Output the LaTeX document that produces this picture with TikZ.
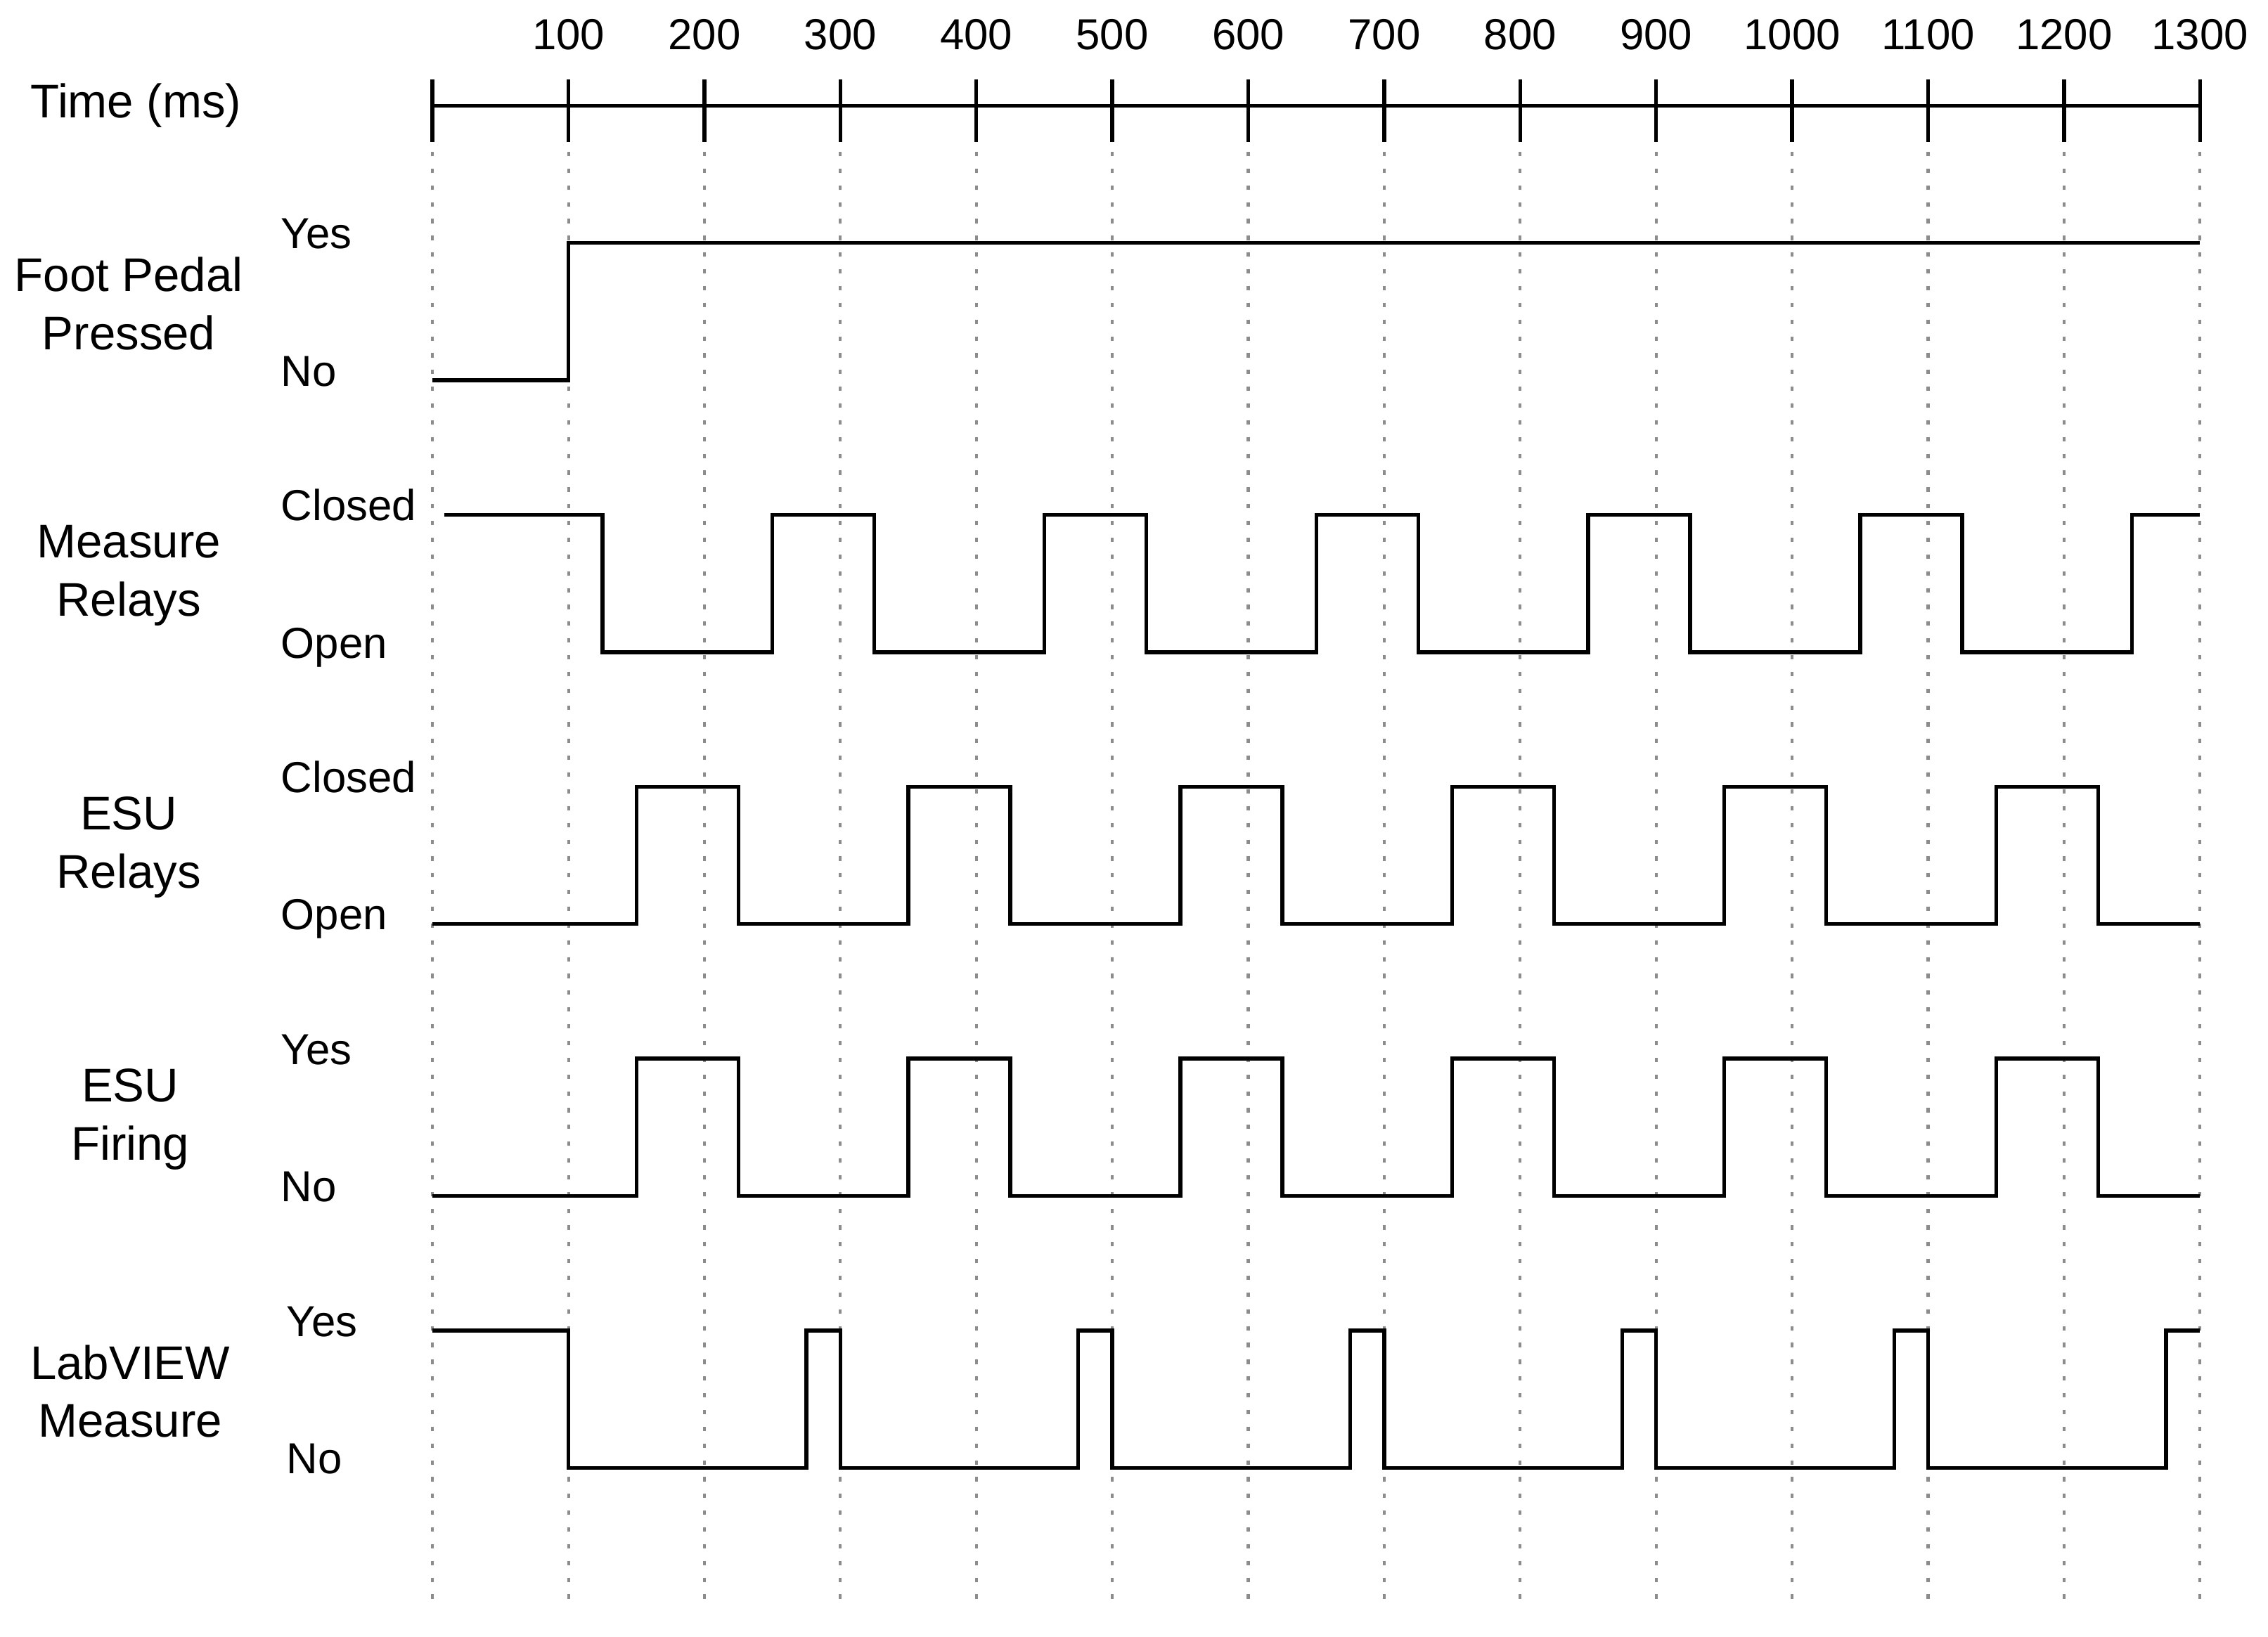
\documentclass[tikz,border=0pt]{standalone}
\usepackage{fontspec}
\setmainfont{Liberation Sans}
\newlength{\du}
\setlength{\du}{15\unitlength}
\definecolor{gridcolor}{rgb}{0.550000, 0.550000, 0.550000}
\tikzset{
  signame/.style={align=center, inner sep=0pt, font=\fontsize{24.5}{30}\selectfont},
  statelabel/.style={anchor=base west, inner sep=0pt, font=\fontsize{22.5}{27}\selectfont},
  ticklabel/.style={inner sep=0pt, font=\fontsize{22.5}{27}\selectfont},
  gridline/.style={draw=gridcolor, line width=0.1\du, dash pattern=on 0.15\du off 0.43\du},
  wave/.style={draw=dialinecolor, line width=0.13\du, line cap=butt, line join=miter},
}

\begin{document}
\begin{tikzpicture}
\pgftransformxscale{1.000000}
\pgftransformyscale{-1.000000}
\definecolor{dialinecolor}{rgb}{0.000000, 0.000000, 0.000000}
\pgfsetstrokecolor{dialinecolor}
\useasboundingbox (0.000000\du,0.000000\du) rectangle (78.400000\du,56.600000\du);
% grid
\draw[gridline] (14.950000\du,5.250000\du)--(14.950000\du,55.500000\du);
\draw[gridline] (19.650000\du,5.250000\du)--(19.650000\du,55.500000\du);
\draw[gridline] (24.350000\du,5.250000\du)--(24.350000\du,55.500000\du);
\draw[gridline] (29.050000\du,5.250000\du)--(29.050000\du,55.500000\du);
\draw[gridline] (33.750000\du,5.250000\du)--(33.750000\du,55.500000\du);
\draw[gridline] (38.450000\du,5.250000\du)--(38.450000\du,55.500000\du);
\draw[gridline] (43.150000\du,5.250000\du)--(43.150000\du,55.500000\du);
\draw[gridline] (47.850000\du,5.250000\du)--(47.850000\du,55.500000\du);
\draw[gridline] (52.550000\du,5.250000\du)--(52.550000\du,55.500000\du);
\draw[gridline] (57.250000\du,5.250000\du)--(57.250000\du,55.500000\du);
\draw[gridline] (61.950000\du,5.250000\du)--(61.950000\du,55.500000\du);
\draw[gridline] (66.650000\du,5.250000\du)--(66.650000\du,55.500000\du);
\draw[gridline] (71.350000\du,5.250000\du)--(71.350000\du,55.500000\du);
\draw[gridline] (76.050000\du,5.250000\du)--(76.050000\du,55.500000\du);
% time axis
\pgfsetlinewidth{0.130000\du}
\pgfsetbuttcap
\pgfsetmiterjoin
\draw[wave] (14.950000\du,3.650000\du)--(76.050000\du,3.650000\du);
\draw[wave] (14.950000\du,2.750000\du)--(14.950000\du,4.900000\du);
\draw[wave] (19.650000\du,2.750000\du)--(19.650000\du,4.900000\du);
\draw[wave] (24.350000\du,2.750000\du)--(24.350000\du,4.900000\du);
\draw[wave] (29.050000\du,2.750000\du)--(29.050000\du,4.900000\du);
\draw[wave] (33.750000\du,2.750000\du)--(33.750000\du,4.900000\du);
\draw[wave] (38.450000\du,2.750000\du)--(38.450000\du,4.900000\du);
\draw[wave] (43.150000\du,2.750000\du)--(43.150000\du,4.900000\du);
\draw[wave] (47.850000\du,2.750000\du)--(47.850000\du,4.900000\du);
\draw[wave] (52.550000\du,2.750000\du)--(52.550000\du,4.900000\du);
\draw[wave] (57.250000\du,2.750000\du)--(57.250000\du,4.900000\du);
\draw[wave] (61.950000\du,2.750000\du)--(61.950000\du,4.900000\du);
\draw[wave] (66.650000\du,2.750000\du)--(66.650000\du,4.900000\du);
\draw[wave] (71.350000\du,2.750000\du)--(71.350000\du,4.900000\du);
\draw[wave] (76.050000\du,2.750000\du)--(76.050000\du,4.900000\du);
\node[ticklabel] (t100) at (19.650000\du,1.200000\du) {100};
\node[ticklabel] (t200) at (24.350000\du,1.200000\du) {200};
\node[ticklabel] (t300) at (29.050000\du,1.200000\du) {300};
\node[ticklabel] (t400) at (33.750000\du,1.200000\du) {400};
\node[ticklabel] (t500) at (38.450000\du,1.200000\du) {500};
\node[ticklabel] (t600) at (43.150000\du,1.200000\du) {600};
\node[ticklabel] (t700) at (47.850000\du,1.200000\du) {700};
\node[ticklabel] (t800) at (52.550000\du,1.200000\du) {800};
\node[ticklabel] (t900) at (57.250000\du,1.200000\du) {900};
\node[ticklabel] (t1000) at (61.950000\du,1.200000\du) {1000};
\node[ticklabel] (t1100) at (66.650000\du,1.200000\du) {1100};
\node[ticklabel] (t1200) at (71.350000\du,1.200000\du) {1200};
\node[ticklabel] (t1300) at (76.050000\du,1.200000\du) {1300};
\node[signame] (time) at (4.700000\du,3.650000\du) {Time (ms)};
% foot pedal
\node[signame] (pedal) at (4.450000\du,10.500000\du) {Foot Pedal\\Pressed};
\node[statelabel] (pedalhi) at (9.650000\du,8.600000\du) {Yes};
\node[statelabel] (pedallo) at (9.650000\du,13.350000\du) {No};
\draw[wave] (14.950000\du,13.150000\du)--(19.650000\du,13.150000\du)--(19.650000\du,8.400000\du)--(76.050000\du,8.400000\du);
% measure relays
\node[signame] (mrelay) at (4.450000\du,19.900000\du) {Measure\\Relays};
\node[statelabel] (mrelayhi) at (9.650000\du,18.000000\du) {Closed};
\node[statelabel] (mrelaylo) at (9.650000\du,22.750000\du) {Open};
\draw[wave] (15.350000\du,17.800000\du)--(20.825000\du,17.800000\du)--(20.825000\du,22.550000\du)--(26.700000\du,22.550000\du)--(26.700000\du,17.800000\du)--(30.225000\du,17.800000\du)--(30.225000\du,22.550000\du)--(36.100000\du,22.550000\du)--(36.100000\du,17.800000\du)--(39.625000\du,17.800000\du)--(39.625000\du,22.550000\du)--(45.500000\du,22.550000\du)--(45.500000\du,17.800000\du)--(49.025000\du,17.800000\du)--(49.025000\du,22.550000\du)--(54.900000\du,22.550000\du)--(54.900000\du,17.800000\du)--(58.425000\du,17.800000\du)--(58.425000\du,22.550000\du)--(64.300000\du,22.550000\du)--(64.300000\du,17.800000\du)--(67.825000\du,17.800000\du)--(67.825000\du,22.550000\du)--(73.700000\du,22.550000\du)--(73.700000\du,17.800000\du)--(76.050000\du,17.800000\du);
% esu relays
\node[signame] (erelay) at (4.450000\du,29.300000\du) {ESU\\Relays};
\node[statelabel] (erelayhi) at (9.650000\du,27.400000\du) {Closed};
\node[statelabel] (erelaylo) at (9.650000\du,32.150000\du) {Open};
\draw[wave] (14.950000\du,31.950000\du)--(22.000000\du,31.950000\du)--(22.000000\du,27.200000\du)--(25.525000\du,27.200000\du)--(25.525000\du,31.950000\du)--(31.400000\du,31.950000\du)--(31.400000\du,27.200000\du)--(34.925000\du,27.200000\du)--(34.925000\du,31.950000\du)--(40.800000\du,31.950000\du)--(40.800000\du,27.200000\du)--(44.325000\du,27.200000\du)--(44.325000\du,31.950000\du)--(50.200000\du,31.950000\du)--(50.200000\du,27.200000\du)--(53.725000\du,27.200000\du)--(53.725000\du,31.950000\du)--(59.600000\du,31.950000\du)--(59.600000\du,27.200000\du)--(63.125000\du,27.200000\du)--(63.125000\du,31.950000\du)--(69.000000\du,31.950000\du)--(69.000000\du,27.200000\du)--(72.525000\du,27.200000\du)--(72.525000\du,31.950000\du)--(76.050000\du,31.950000\du);
% esu firing
\node[signame] (efire) at (4.500000\du,38.700000\du) {ESU\\Firing};
\node[statelabel] (efirehi) at (9.650000\du,36.800000\du) {Yes};
\node[statelabel] (efirelo) at (9.650000\du,41.550000\du) {No};
\draw[wave] (14.950000\du,41.350000\du)--(22.000000\du,41.350000\du)--(22.000000\du,36.600000\du)--(25.525000\du,36.600000\du)--(25.525000\du,41.350000\du)--(31.400000\du,41.350000\du)--(31.400000\du,36.600000\du)--(34.925000\du,36.600000\du)--(34.925000\du,41.350000\du)--(40.800000\du,41.350000\du)--(40.800000\du,36.600000\du)--(44.325000\du,36.600000\du)--(44.325000\du,41.350000\du)--(50.200000\du,41.350000\du)--(50.200000\du,36.600000\du)--(53.725000\du,36.600000\du)--(53.725000\du,41.350000\du)--(59.600000\du,41.350000\du)--(59.600000\du,36.600000\du)--(63.125000\du,36.600000\du)--(63.125000\du,41.350000\du)--(69.000000\du,41.350000\du)--(69.000000\du,36.600000\du)--(72.525000\du,36.600000\du)--(72.525000\du,41.350000\du)--(76.050000\du,41.350000\du);
% labview measure
\node[signame] (lview) at (4.500000\du,48.100000\du) {LabVIEW\\Measure};
\node[statelabel] (lviewhi) at (9.850000\du,46.200000\du) {Yes};
\node[statelabel] (lviewlo) at (9.850000\du,50.950000\du) {No};
\draw[wave] (14.950000\du,46.000000\du)--(19.650000\du,46.000000\du)--(19.650000\du,50.750000\du)--(27.875000\du,50.750000\du)--(27.875000\du,46.000000\du)--(29.050000\du,46.000000\du)--(29.050000\du,50.750000\du)--(37.275000\du,50.750000\du)--(37.275000\du,46.000000\du)--(38.450000\du,46.000000\du)--(38.450000\du,50.750000\du)--(46.675000\du,50.750000\du)--(46.675000\du,46.000000\du)--(47.850000\du,46.000000\du)--(47.850000\du,50.750000\du)--(56.075000\du,50.750000\du)--(56.075000\du,46.000000\du)--(57.250000\du,46.000000\du)--(57.250000\du,50.750000\du)--(65.475000\du,50.750000\du)--(65.475000\du,46.000000\du)--(66.650000\du,46.000000\du)--(66.650000\du,50.750000\du)--(74.875000\du,50.750000\du)--(74.875000\du,46.000000\du)--(76.050000\du,46.000000\du);
\end{tikzpicture}
\end{document}
